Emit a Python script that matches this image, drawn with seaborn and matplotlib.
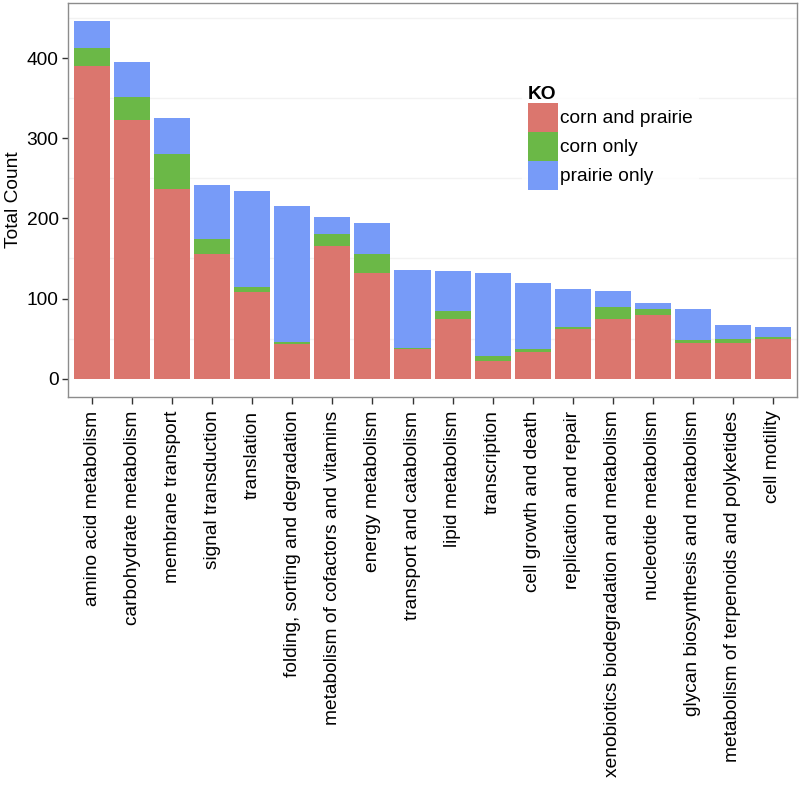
import matplotlib
matplotlib.use("Agg")
import matplotlib.pyplot as plt
import matplotlib.patches as mpatches
import seaborn as sns
import numpy as np
import pandas as pd

categories = [
    "amino acid metabolism", "carbohydrate metabolism", "membrane transport",
    "signal transduction", "translation", "folding, sorting and degradation",
    "metabolism of cofactors and vitamins", "energy metabolism",
    "transport and catabolism", "lipid metabolism", "transcription",
    "cell growth and death", "replication and repair",
    "xenobiotics biodegradation and metabolism", "nucleotide metabolism",
    "glycan biosynthesis and metabolism",
    "metabolism of terpenoids and polyketides", "cell motility",
]
corn_and_prairie = [390, 323, 237, 155, 108, 43, 165, 132, 37, 75, 22, 34, 62, 74, 79, 45, 45, 49]
corn_only = [22, 28, 43, 19, 6, 3, 15, 23, 2, 9, 6, 3, 2, 15, 8, 3, 4, 3]
prairie_only = [34, 44, 45, 68, 120, 169, 22, 39, 97, 50, 104, 83, 48, 20, 7, 39, 18, 13]

series_names = ["corn and prairie", "corn only", "prairie only"]
series_colors = ["#DB766E", "#6BB847", "#779BF8"]

sns.set_style("white")
plt.rcParams["font.family"] = ["Liberation Sans", "DejaVu Sans"]
plt.rcParams["text.color"] = "black"
plt.rcParams["axes.labelcolor"] = "black"
plt.rcParams["xtick.labelcolor"] = "black"
plt.rcParams["ytick.labelcolor"] = "black"
fs = 13.8

df = pd.DataFrame({
    "category": categories,
    "cp": corn_and_prairie,
    "co": corn_only,
    "po": prairie_only,
})
# cumulative heights, drawn from the top layer down so they stack visually
df["top_po"] = df["cp"] + df["co"] + df["po"]
df["top_co"] = df["cp"] + df["co"]
df["top_cp"] = df["cp"]

fig = plt.figure(figsize=(8.02, 7.93), dpi=100)
ax = fig.add_axes([0.0852, 0.4998, 0.9082, 0.4961])

for y in [50, 150, 250, 350, 450]:
    ax.axhline(y, color="#F2F2F2", lw=1.0, zorder=0)

for col, color in zip(["top_po", "top_co", "top_cp"], series_colors[::-1]):
    sns.barplot(data=df, x="category", y=col, order=categories, color=color,
                saturation=1, width=0.9, errorbar=None, linewidth=0, ax=ax)

ax.set_xlim(-0.6, 17.6)
ax.set_ylim(-22.3, 468.3)
ax.set_yticks([0, 100, 200, 300, 400])
ax.set_xlabel("")
ax.set_ylabel("Total Count", fontsize=fs, labelpad=3)
ax.tick_params(axis="y", labelsize=fs, length=4, width=1, color="#333333", pad=3, left=True)
ax.tick_params(axis="x", labelsize=fs, length=5, width=1, color="#333333", pad=5, bottom=True)
plt.setp(ax.get_xticklabels(), rotation=90, ha="center", va="top")

for s in ax.spines.values():
    s.set_color("#8C8C8C")
    s.set_linewidth(1.0)

handles = [mpatches.Patch(facecolor=c, edgecolor="none") for c in series_colors]
leg = ax.legend(handles, series_names, title="KO", loc="upper left",
                bbox_to_anchor=(0.651, 0.899), bbox_transform=fig.transFigure,
                fontsize=fs, title_fontproperties={"weight": "bold", "size": fs},
                frameon=True, fancybox=False, borderpad=0.3, borderaxespad=0,
                handlelength=1.55, handleheight=1.95, handletextpad=0.15,
                labelspacing=0, alignment="left")
leg.get_frame().set_facecolor("white")
leg.get_frame().set_edgecolor("none")

fig.savefig("out.png", dpi=100)
